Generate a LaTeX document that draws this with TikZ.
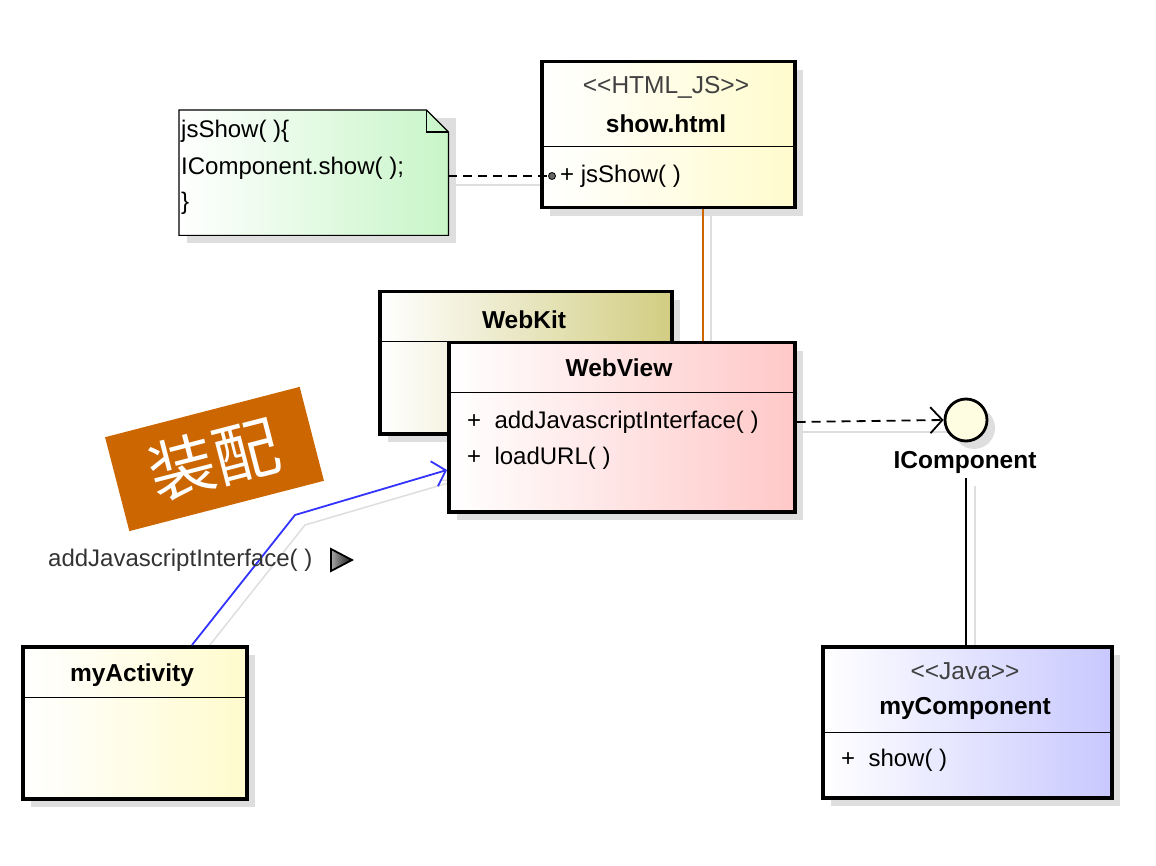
\documentclass[tikz,border=0pt]{standalone}
\usepackage{fontspec}
\setmainfont{Liberation Sans}
\newfontfamily\cjk{Noto Sans CJK SC}
\usetikzlibrary{shadows,arrows.meta}
\definecolor{yel}{RGB}{255,251,205}
\definecolor{grn}{RGB}{200,245,200}
\definecolor{olv}{RGB}{210,205,130}
\definecolor{pnk}{RGB}{255,200,200}
\definecolor{blu}{RGB}{200,200,255}
\definecolor{org}{RGB}{204,102,0}
\definecolor{shd}{RGB}{222,222,222}
\definecolor{lnk}{RGB}{51,51,255}
\begin{document}
\begin{tikzpicture}[x=1pt,y=-1pt,
  umlbox/.style={draw=black, line width=3.5pt, anchor=north west, inner sep=0,
    general shadow={fill=shd, shadow xshift=8pt, shadow yshift=-8pt}},
  txt/.style={font=\fontsize{24}{28}\selectfont, inner sep=0},
  bold/.style={font=\fontsize{24.5}{28}\selectfont\bfseries, inner sep=0},
  stereo/.style={font=\fontsize{24.5}{28}\selectfont, text=black!75, inner sep=0},
  sep/.style={line width=1pt},
  shline/.style={draw=shd, line width=1.5pt},
  barb/.style={-{Straight Barb[length=12pt, width=26pt, line width=1.8pt]}},
]
\useasboundingbox (0,0) rectangle (1156,866);

% ---- connector shadows ----
\draw[shline] (456,185) -- (560,185);
\draw[shline] (711,214) -- (711,350);
\draw[shline] (800,432) -- (955,432);
\draw[shline] (975,486) -- (975,652);
\draw[shline] (202,655) -- (305,525) -- (455,481);
\draw[shline] (447,490) -- (455,481) -- (442,480);

% ---- show.html ----
\node[umlbox, minimum width=253, minimum height=146, left color=white, right color=yel] (show) at (540,60) {};
\draw[sep] (show.west |- 0,147) -- (show.east |- 0,147);
\node[stereo] (showst) at (666,87) {{<}{<}HTML\_JS{>}{>}};
\node[bold] (showt) at (666,124) {show.html};
\node[txt, anchor=west] (showop) at (560,176) {+ jsShow( )};

% ---- note ----
\node[anchor=north west, minimum width=269, minimum height=125, inner sep=0] (note) at (179,110) {};
\fill[shd] (187,243) rectangle (456,118);
\shade[left color=white, right color=grn, draw=black, line width=1.2pt]
  (note.north west) -- ([xshift=-22]note.north east) -- ([yshift=-22]note.north east)
  -- (note.south east) -- (note.south west) -- cycle;
\draw[line width=1.2pt] ([xshift=-22]note.north east) -- ([xshift=-22,yshift=-22]note.north east) -- ([yshift=-22]note.north east);
\node[txt, anchor=west] (n1) at (181,131) {jsShow( )\{};
\node[txt, anchor=west] (n2) at (181,168) {IComponent.show( );};
\node[txt, anchor=west] (n3) at (181,203) {\}};

\node[circle, fill=black!60, draw=black, line width=0.8pt, minimum size=7, inner sep=0] (jsdot) at (552,176) {};
\draw[dashed, line width=1.8pt, dash pattern=on 9pt off 6pt] (note.east |- jsdot) -- (jsdot);

% ---- WebKit ----
\node[umlbox, minimum width=292, minimum height=142, left color=white, right color=olv] (webkit) at (378,290) {};
\draw[sep] (webkit.west |- 0,342) -- (webkit.east |- 0,342);
\node[bold] (webkitt) at (524,320) {WebKit};

% ---- WebView ----
\node[umlbox, minimum width=346, minimum height=169, left color=white, right color=pnk] (webview) at (447,341) {};
\draw[sep] (webview.west |- 0,392) -- (webview.east |- 0,392);
\node[bold] (webviewt) at (619,368) {WebView};
\node[txt, anchor=west] (wv1) at (467,422) {+ \ addJavascriptInterface( )};
\node[txt, anchor=west] (wv2) at (467,458) {+ \ loadURL( )};

% orange link
\draw[draw=org, line width=1.5pt] (show.south -| 703,0) -- (webview.north -| 703,0);

% ---- IComponent ----
\fill[shd] (974,428) circle (21);
\node[circle, draw=black, line width=2.8pt, fill=yel!60, minimum size=42, inner sep=0] (icomp) at (966,420) {};
\node[bold] (icompt) at (965,462) {IComponent};
\coordinate (icb) at (966,478);
\draw[dashed, line width=1.8pt, dash pattern=on 9pt off 6pt, barb]
  (webview.east |- 0,422) -- (icomp.west);

% ---- myComponent ----
\node[umlbox, minimum width=289, minimum height=151, left color=white, right color=blu] (mycomp) at (821,645) {};
\draw[sep] (mycomp.west |- 0,732) -- (mycomp.east |- 0,732);
\node[stereo] (mycst) at (965,671) {{<}{<}Java{>}{>}};
\node[bold] (mycompt) at (965,708) {myComponent};
\node[txt, anchor=west] (mycop) at (841,760) {+ \ show( )};
\draw[line width=1.8pt] (icb) -- (mycomp.north -| icb);

% ---- myActivity ----
\node[umlbox, minimum width=224, minimum height=152, left color=white, right color=yel] (myact) at (21,645) {};
\draw[sep] (myact.west |- 0,697) -- (myact.east |- 0,697);
\node[bold] (myactt) at (132,675) {myActivity};

% ---- blue link ----
\coordinate (bend) at (295,515);
\draw[draw=lnk, line width=1.8pt, barb]
  (myact.north -| 192,0) -- (bend) -- (webview.west |- 0,470);
\node[txt, anchor=west, text=black!80] (lbl) at (48,560) {addJavascriptInterface( )};
\shade[left color=black!35, right color=black!90, draw=black, line width=1.8pt]
  (331,549) -- (352,560) -- (331,571) -- cycle;

% ---- orange tag ----
\node[fill=org, rotate=14.5, minimum width=201, minimum height=97, inner sep=0,
  text=white, font=\cjk\fontsize{66}{66}\selectfont] (tag) at (214.5,459) {装配};
\end{tikzpicture}
\end{document}
